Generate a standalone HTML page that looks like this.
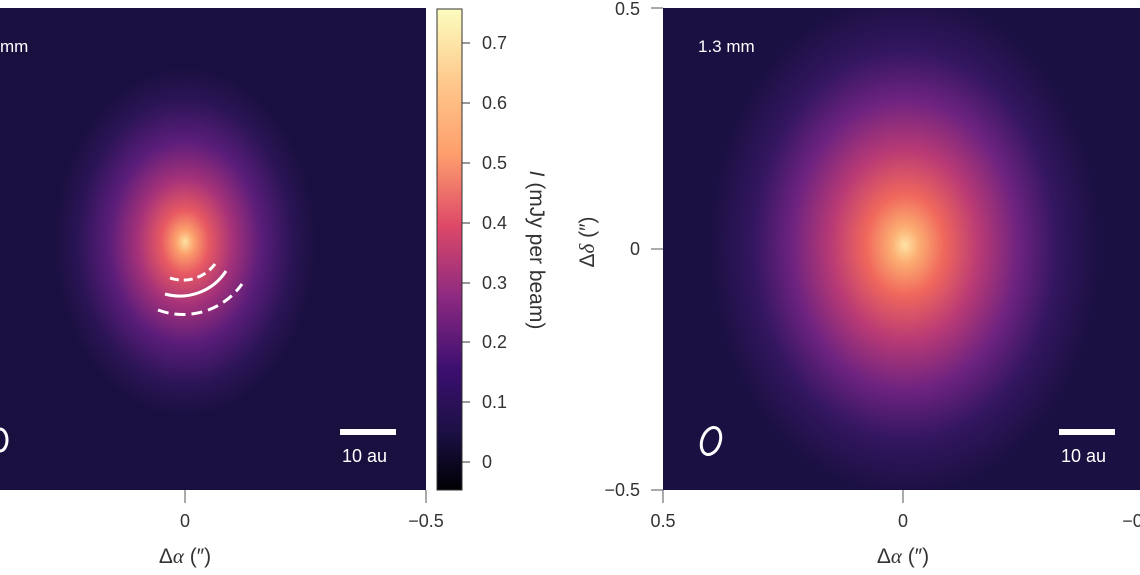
<!DOCTYPE html>
<html><head><style>
body{margin:0;background:#fff;}
svg text{font-family:"Liberation Sans",sans-serif;}
</style></head><body>
<svg width="1140" height="570" viewBox="0 0 1140 570" xmlns="http://www.w3.org/2000/svg">
<defs>
<radialGradient id="L" cx="185" cy="242" r="175" gradientUnits="userSpaceOnUse" gradientTransform="translate(185 242) scale(0.75 1) translate(-185 -242)">
<stop offset="0" stop-color="#fde2a0"/>
<stop offset="0.07" stop-color="#fca06c"/>
<stop offset="0.18" stop-color="#e85a62"/>
<stop offset="0.36" stop-color="#a63279"/>
<stop offset="0.58" stop-color="#5a1d7a"/>
<stop offset="0.82" stop-color="#2a1455"/>
<stop offset="1" stop-color="#1a1040"/>
</radialGradient>
<radialGradient id="R" cx="905" cy="245" r="250" gradientUnits="userSpaceOnUse" gradientTransform="translate(905 245) scale(0.78 1) translate(-905 -245)">
<stop offset="0" stop-color="#fee3a4"/>
<stop offset="0.07" stop-color="#fcae72"/>
<stop offset="0.2" stop-color="#f0685c"/>
<stop offset="0.38" stop-color="#b93a75"/>
<stop offset="0.58" stop-color="#6e2380"/>
<stop offset="0.78" stop-color="#331660"/>
<stop offset="1" stop-color="#1b1042"/>
</radialGradient>
<linearGradient id="CB" x1="0" y1="1" x2="0" y2="0">
<stop offset="0" stop-color="#000004"/>
<stop offset="0.12" stop-color="#1c1044"/>
<stop offset="0.25" stop-color="#3b0f70"/>
<stop offset="0.4" stop-color="#8c2981"/>
<stop offset="0.55" stop-color="#de4968"/>
<stop offset="0.7" stop-color="#fe9f6d"/>
<stop offset="0.85" stop-color="#fec98d"/>
<stop offset="1" stop-color="#fcfdbf"/>
</linearGradient>
</defs>
<!-- left panel -->
<rect x="0" y="8" width="426" height="482" fill="#1a1040"/>
<rect x="0" y="8" width="426" height="482" fill="url(#L)"/>
<text x="0" y="52" fill="#fff" font-size="17">mm</text>
<path d="M170 278 A40 40 0 0 0 215 264" stroke="#fff" stroke-width="3" fill="none" stroke-dasharray="9 5"/>
<path d="M165 294 A55 55 0 0 0 226 271" stroke="#fff" stroke-width="3" fill="none"/>
<path d="M158 310 A72 72 0 0 0 242 284" stroke="#fff" stroke-width="3" fill="none" stroke-dasharray="11 6"/>
<ellipse cx="0" cy="440" rx="7" ry="11" stroke="#fff" stroke-width="3" fill="none"/>
<rect x="340" y="429" width="56" height="6" fill="#fff"/>
<text x="342" y="462" fill="#fff" font-size="18">10 au</text>
<line x1="185" y1="490" x2="185" y2="503" stroke="#555"/>
<line x1="426" y1="490" x2="426" y2="503" stroke="#555"/>
<text x="185" y="527" font-size="18" fill="#333" text-anchor="middle">0</text>
<text x="426" y="527" font-size="18" fill="#333" text-anchor="middle">−0.5</text>
<text x="185" y="563" font-size="21" fill="#333" text-anchor="middle">Δ<tspan font-style="italic" font-family="Liberation Serif">α</tspan> (″)</text>
<!-- colorbar -->
<rect x="437" y="9" width="25" height="481" fill="url(#CB)" stroke="#333" stroke-width="1"/>
<g stroke="#333">
<line x1="462" y1="43" x2="470" y2="43"/><line x1="462" y1="103" x2="470" y2="103"/><line x1="462" y1="163" x2="470" y2="163"/><line x1="462" y1="223" x2="470" y2="223"/><line x1="462" y1="283" x2="470" y2="283"/><line x1="462" y1="342" x2="470" y2="342"/><line x1="462" y1="402" x2="470" y2="402"/><line x1="462" y1="462" x2="470" y2="462"/>
</g>
<g font-size="18" fill="#333">
<text x="482" y="49">0.7</text><text x="482" y="109">0.6</text><text x="482" y="169">0.5</text><text x="482" y="229">0.4</text><text x="482" y="289">0.3</text><text x="482" y="348">0.2</text><text x="482" y="408">0.1</text><text x="482" y="468">0</text>
</g>
<text transform="translate(530 250) rotate(90)" font-size="21" fill="#333" text-anchor="middle"><tspan font-style="italic">I</tspan> (mJy per beam)</text>
<text transform="translate(594 242) rotate(-90)" font-size="21" fill="#333" text-anchor="middle">Δ<tspan font-style="italic" font-family="Liberation Serif">δ</tspan> (″)</text>
<!-- right panel -->
<rect x="663" y="8" width="477" height="482" fill="#1b1042"/>
<rect x="663" y="8" width="477" height="482" fill="url(#R)"/>
<text x="698" y="52" fill="#fff" font-size="17">1.3 mm</text>
<ellipse cx="711" cy="441" rx="9" ry="14" transform="rotate(20 711 441)" stroke="#fff" stroke-width="3" fill="none"/>
<rect x="1059" y="429" width="56" height="6" fill="#fff"/>
<text x="1061" y="462" fill="#fff" font-size="18">10 au</text>
<g stroke="#555">
<line x1="651" y1="8" x2="663" y2="8"/><line x1="651" y1="249" x2="663" y2="249"/><line x1="651" y1="490" x2="663" y2="490"/>
<line x1="663" y1="490" x2="663" y2="503"/><line x1="903" y1="490" x2="903" y2="503"/>
</g>
<g font-size="18" fill="#333">
<text x="640" y="15" text-anchor="end">0.5</text>
<text x="640" y="255" text-anchor="end">0</text>
<text x="640" y="496" text-anchor="end">−0.5</text>
<text x="663" y="527" text-anchor="middle">0.5</text>
<text x="903" y="527" text-anchor="middle">0</text>
<text x="1140" y="527" text-anchor="middle">−0.5</text>
</g>
<text x="903" y="563" font-size="21" fill="#333" text-anchor="middle">Δ<tspan font-style="italic" font-family="Liberation Serif">α</tspan> (″)</text>
</svg>
</body></html>
